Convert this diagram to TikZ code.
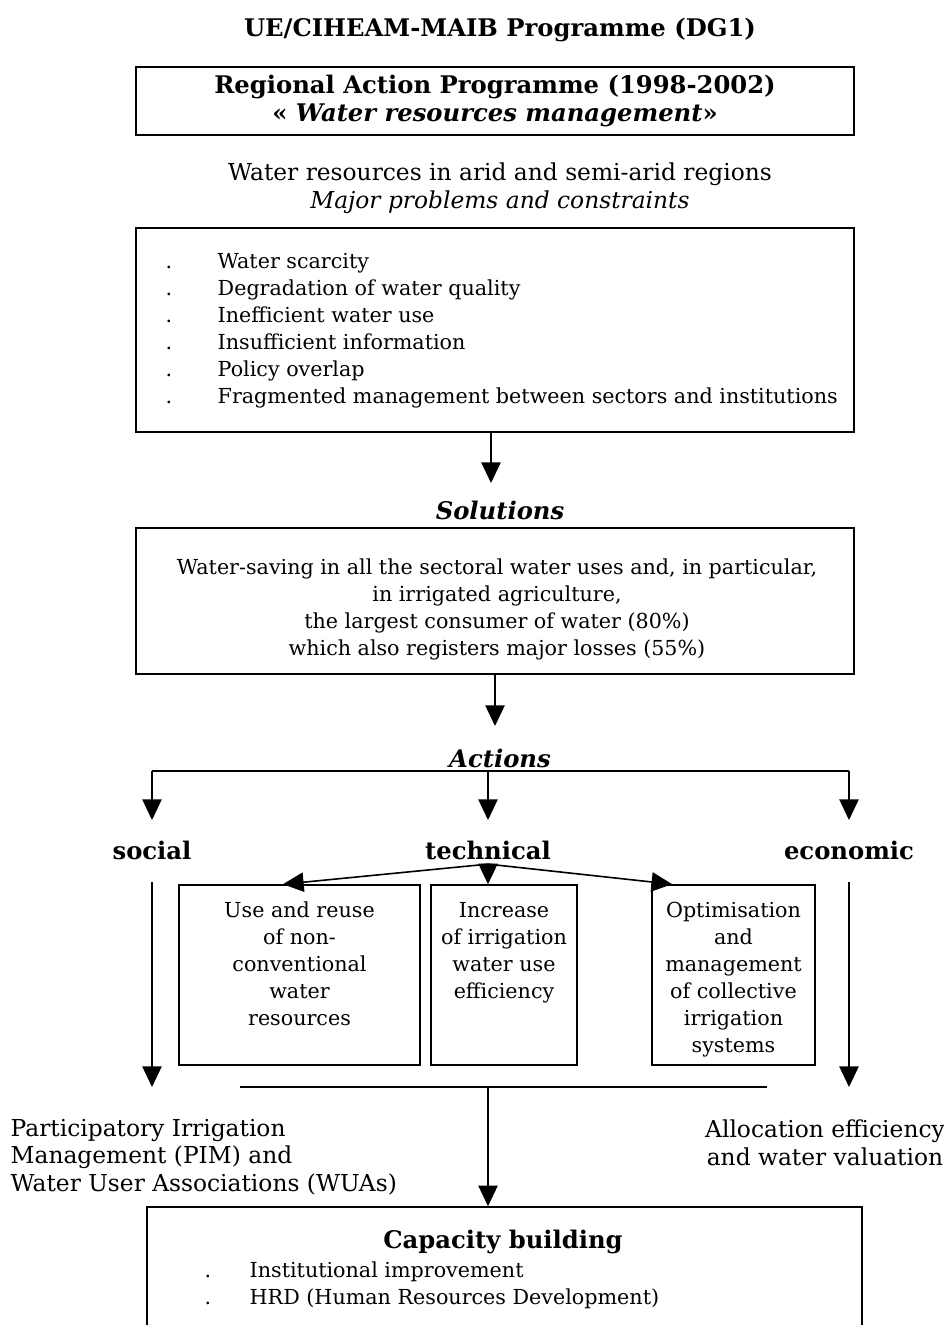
\documentclass[tikz,border=0pt]{standalone}
\usepackage{fontspec}
\setmainfont{DejaVu Serif}
\usetikzlibrary{arrows.meta}
\newcommand{\fs}{\fontsize{15.5}{20.25}\selectfont}
\newcommand{\fl}{\fontsize{17.5}{20.6}\selectfont}
\newcommand{\fb}{\fontsize{18.2}{20.6}\selectfont\bfseries}
\newcommand{\itm}[2][39pt]{\makebox[#1][l]{.}#2}
\begin{document}
\begin{tikzpicture}[x=0.75pt,y=-0.75pt,
    font=\fs,
    lg/.style={font=\fl},
    bf/.style={font=\fb},
    bi/.style={font=\fb\itshape},
    box/.style={draw, line width=1.2pt, inner sep=0pt},
    arr/.style={line width=1.2pt, -{Triangle[length=15.5pt,width=14.5pt]}}]
    \clip (0,0) rectangle (944,1325);
    %% heading
    \node[bf] (title) at (500,30) {UE/CIHEAM-MAIB Programme (DG1)};
    \node[box, bf, minimum width=538.5pt, minimum height=51pt, align=center] (rap) at (495,101)
        {Regional Action Programme (1998-2002)\\ « \textit{Water resources management}»};
    %% problems
    \node[lg, align=center] (probhead) at (500,188)
        {Water resources in arid and semi-arid regions\\ \textit{Major problems and constraints}};
    \node[box, minimum width=538.5pt, minimum height=153pt] (prob) at (495,330) {};
    \node[anchor=north west, align=left] (problist) at (161,249)
        {\itm{Water scarcity}\\ \itm{Degradation of water quality}\\ \itm{Inefficient water use}\\
         \itm{Insufficient information}\\ \itm{Policy overlap}\\
         \itm{Fragmented management between sectors and institutions}};
    \coordinate (a1) at (491,483);
    \draw[arr] (prob.south -| a1) -- (a1);
    %% solutions
    \node[bi] (solhead) at (500,510) {Solutions};
    \node[box, minimum width=538.5pt, minimum height=109.5pt] (sol) at (495,601) {};
    \node[align=center] (soltext) at (497,609)
        {Water-saving in all the sectoral water uses and, in particular,\\ in irrigated agriculture,\\
         the largest consumer of water (80\%)\\ which also registers major losses (55\%)};
    \coordinate (a2) at (495,726);
    \draw[arr] (sol.south -| a2) -- (a2);
    %% actions
    \node[bi] (acthead) at (500,758) {Actions};
    \node[bf] (social) at (152,850) {social};
    \node[bf] (tech) at (488,850) {technical};
    \node[bf] (econ) at (849,850) {economic};
    \coordinate (bar) at (0,771);
    \draw[line width=1.2pt] (bar -| social) -- (bar -| econ);
    \foreach \n in {social,tech,econ}
        \draw[arr] (bar -| \n) -- (\n.north |- 0,820);
    %% technical boxes
    \node[box, minimum width=180.75pt, minimum height=135pt] (boxA) at (299.5,975) {};
    \node[box, minimum width=109.5pt, minimum height=135pt] (boxB) at (504,975) {};
    \node[box, minimum width=122.25pt, minimum height=135pt] (boxC) at (733.5,975) {};
    \node[anchor=north, align=center] (textA) at ([yshift=-10pt]boxA.north)
        {Use and reuse\\ of non-\\ conventional\\ water\\ resources};
    \node[anchor=north, align=center] (textB) at ([yshift=-10pt]boxB.north)
        {Increase\\ of irrigation\\ water use\\ efficiency};
    \node[anchor=north, align=center] (textC) at ([yshift=-10pt]boxC.north)
        {Optimisation\\ and\\ management\\ of collective\\ irrigation\\ systems};
    \draw[arr] (tech.south) -- ([xshift=-12.4pt]boxA.north);
    \draw[arr] (tech.south) -- ([xshift=-12pt]boxB.north);
    \draw[arr] (tech.south) -- ([xshift=-46pt]boxC.north);
    %% outcomes
    \coordinate (jl) at (240,1087);
    \coordinate (jr) at (767,1087);
    \draw[line width=1.2pt] (jl) -- (jr);
    \draw[arr] ([yshift=-13.5pt]social.south) -- (social.south |- jl);
    \draw[arr] ([yshift=-13.5pt]econ.south) -- (econ.south |- jl);
    \node[lg, anchor=west, align=left] (pim) at (6,1157)
        {Participatory Irrigation\\ Management (PIM) and\\ Water User Associations (WUAs)};
    \node[lg, align=center] (alloc) at (825,1143) {Allocation efficiency\\ and water valuation};
    %% capacity building
    \node[box, minimum width=536.25pt, minimum height=120pt] (cap) at (504.5,1287) {};
    \draw[arr] (jl -| tech) -- (cap.north -| tech);
    \node[bf] (caphead) at (503,1242) {Capacity building};
    \node[anchor=north west, align=left] (caplist) at (200,1257)
        {\itm[33.75pt]{Institutional improvement}\\ \itm[33.75pt]{HRD (Human Resources Development)}};
\end{tikzpicture}
\end{document}
